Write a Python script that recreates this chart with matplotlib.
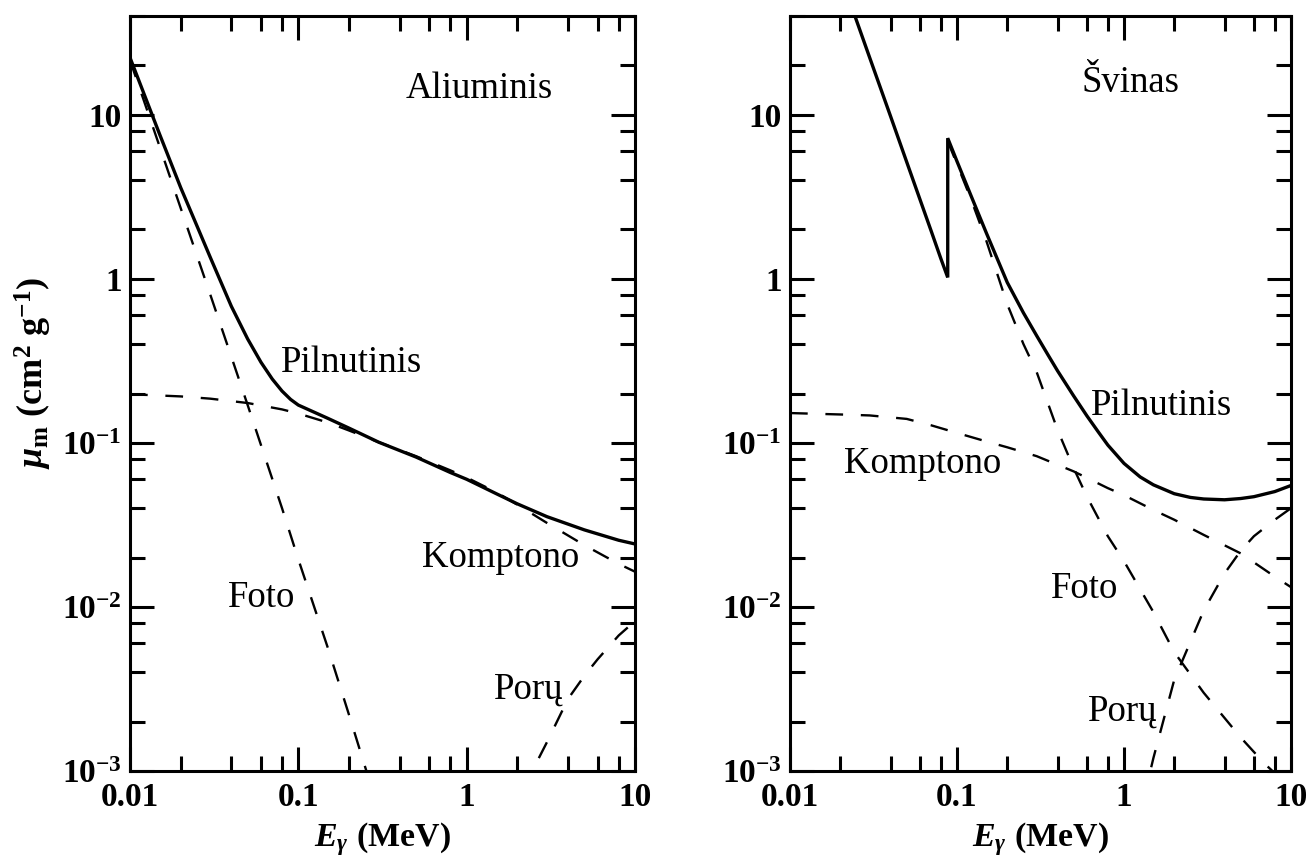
import matplotlib
matplotlib.use("Agg")
import matplotlib.pyplot as plt
from matplotlib.ticker import FixedLocator, FixedFormatter, LogLocator, NullFormatter

plt.rcParams["font.family"] = ["Liberation Serif", "DejaVu Serif"]
plt.rcParams["mathtext.fontset"] = "custom"
plt.rcParams["mathtext.rm"] = "Liberation Serif:bold"
plt.rcParams["mathtext.it"] = "Liberation Serif:italic:bold"
plt.rcParams["mathtext.bf"] = "Liberation Serif:bold"

# ---------------- Aluminium (mass attenuation, cm^2/g) ----------------
al_total_E = [0.01, 0.015, 0.02, 0.025, 0.03, 0.04, 0.05, 0.06, 0.07, 0.08, 0.09,
              0.1, 0.15, 0.2, 0.3, 0.5, 0.8, 1.0, 1.5, 2.0, 3.0, 5.0, 8.0, 10.0]
al_total = [22.3, 7.6, 3.6, 2.1, 1.35, 0.68, 0.43, 0.31, 0.245, 0.207, 0.184,
            0.170, 0.141, 0.123, 0.101, 0.082, 0.066, 0.060, 0.049, 0.0425,
            0.0355, 0.0295, 0.0255, 0.0242]

al_photo_E = [0.01, 0.015, 0.02, 0.03, 0.04, 0.05, 0.06, 0.08, 0.1, 0.15, 0.2, 0.25, 0.3]
al_photo = [21.5, 6.4, 2.7, 0.80, 0.335, 0.170, 0.097, 0.040, 0.0195, 0.0056,
            0.0022, 0.00105, 0.00058]

al_compton_E = [0.01, 0.02, 0.03, 0.05, 0.08, 0.1, 0.15, 0.2, 0.3, 0.5, 0.8, 1.0,
                1.5, 2.0, 3.0, 5.0, 8.0, 10.0]
al_compton = [0.198, 0.192, 0.186, 0.175, 0.160, 0.151, 0.133, 0.119, 0.101, 0.083,
              0.068, 0.0615, 0.050, 0.042, 0.0325, 0.0238, 0.0183, 0.0164]

al_pair_E = [2.3, 2.5, 3.0, 4.0, 5.0, 6.0, 8.0, 10.0]
al_pair = [0.00075, 0.00104, 0.00150, 0.00275, 0.0038, 0.0048, 0.0067, 0.0082]

# ---------------- Lead (mass attenuation, cm^2/g) ----------------
pb_total_E = [0.0242, 0.03, 0.04, 0.05, 0.06, 0.07, 0.08, 0.088, 0.088, 0.1, 0.12,
              0.15, 0.2, 0.25, 0.3, 0.35, 0.4, 0.5, 0.6, 0.7, 0.8, 1.0, 1.25,
              1.5, 2.0, 2.5, 3.0, 4.0, 5.0, 6.0, 8.0, 10.0]
pb_total = [41.3, 22.3, 9.8, 5.15, 3.05, 1.96, 1.33, 1.02, 7.2, 5.2, 3.3,
            1.9, 0.95, 0.62, 0.45, 0.345, 0.275, 0.193, 0.146, 0.117, 0.097,
            0.075, 0.062, 0.0555, 0.049, 0.0465, 0.0455, 0.0450, 0.0458,
            0.0470, 0.0505, 0.055]

pb_photo_E = [0.088, 0.1, 0.12, 0.15, 0.2, 0.25, 0.3, 0.4, 0.5, 0.6, 0.8, 1.0,
              1.5, 2.0, 3.0, 5.0, 7.0, 8.0]
pb_photo = [6.9, 5.0, 3.15, 1.7, 0.70, 0.40, 0.27, 0.12, 0.070, 0.047, 0.027,
            0.019, 0.0093, 0.0053, 0.0030, 0.00160, 0.00110, 0.00097]

pb_compton_E = [0.01, 0.02, 0.03, 0.05, 0.07, 0.1, 0.15, 0.2, 0.3, 0.5, 0.8, 1.0,
                1.5, 2.0, 3.0, 5.0, 8.0, 10.0]
pb_compton = [0.152, 0.149, 0.147, 0.140, 0.128, 0.115, 0.102, 0.094, 0.083,
              0.067, 0.053, 0.048, 0.039, 0.034, 0.0275, 0.0212, 0.0153, 0.0132]

pb_pair_E = [1.3, 1.5, 2.0, 3.0, 4.0, 5.0, 6.0, 8.0, 10.0]
pb_pair = [0.00065, 0.0012, 0.0036, 0.0095, 0.0160, 0.0220, 0.0270, 0.0340, 0.0400]

# axis ticks
x_major = [0.01, 0.1, 1, 10]
x_major_labels = ["0.01", "0.1", "1", "10"]
y_major = [1e-3, 1e-2, 1e-1, 1, 10]
y_major_labels = [r"$\mathregular{10^{-3}}$", r"$\mathregular{10^{-2}}$",
                  r"$\mathregular{10^{-1}}$", "1", "10"]

# curve labels: (text, E, mu)
al_labels = [("Aliuminis", 1.19, 14.4), ("Pilnutinis", 0.207, 0.307),
             ("Komptono", 1.59, 0.0199), ("Foto", 0.0603, 0.01135),
             ("Porų", 2.34, 0.00316)]
pb_labels = [("Švinas", 1.10, 15.7), ("Pilnutinis", 1.67, 0.168),
             ("Komptono", 0.0625, 0.0745), ("Foto", 0.583, 0.0129),
             ("Porų", 0.986, 0.00232)]

W, H = 1309, 859
fig = plt.figure(figsize=(W / 100, H / 100), dpi=100)
ax_al = fig.add_axes([130 / W, 1 - 771 / H, 505 / W, 755 / H])
ax_pb = fig.add_axes([790 / W, 1 - 771 / H, 501 / W, 755 / H])

solid_kw = dict(color="black", lw=2.4, solid_joinstyle="miter")
dash_kw = dict(color="black", lw=1.7, linestyle=(0, (7.5, 7.5)))
label_size = 26.5
tick_size = 24


def style_axes(ax):
    ax.set_xscale("log")
    ax.set_yscale("log")
    ax.set_xlim(0.01, 10)
    ax.set_ylim(1e-3, 40)
    ax.xaxis.set_major_locator(FixedLocator(x_major))
    ax.xaxis.set_major_formatter(FixedFormatter(x_major_labels))
    ax.yaxis.set_major_locator(FixedLocator(y_major))
    ax.yaxis.set_major_formatter(FixedFormatter(y_major_labels))
    ax.xaxis.set_minor_locator(LogLocator(base=10, subs=[2, 4, 6, 8]))
    ax.yaxis.set_minor_locator(LogLocator(base=10, subs=[2, 4, 6, 8]))
    ax.xaxis.set_minor_formatter(NullFormatter())
    ax.yaxis.set_minor_formatter(NullFormatter())
    ax.tick_params(which="both", direction="in", top=True, right=True,
                   width=2.2, labelsize=tick_size)
    ax.tick_params(which="major", length=17)
    ax.tick_params(which="minor", length=11)
    ax.tick_params(axis="x", which="major", pad=8)
    ax.tick_params(axis="y", which="major", pad=6)
    for lab in ax.get_xticklabels() + ax.get_yticklabels():
        lab.set_fontweight("bold")
    for sp in ax.spines.values():
        sp.set_linewidth(2.2)
    ax.set_xlabel(r"$E_\gamma$ (MeV)", fontsize=24.5, fontweight="bold",
                  labelpad=5)


# Aluminium panel
ax_al.plot(al_total_E, al_total, **solid_kw)
ax_al.plot(al_photo_E, al_photo, **dash_kw)
ax_al.plot(al_compton_E, al_compton, **dash_kw)
ax_al.plot(al_pair_E, al_pair, **dash_kw)
style_axes(ax_al)
ax_al.set_ylabel(r"$\mu_\mathrm{m}$ (cm$^\mathrm{2}$ g$^\mathrm{-1}$)",
                 fontsize=26, fontweight="bold")
ax_al.yaxis.set_label_coords(-0.15, 0.527)
for txt, e, m in al_labels:
    ax_al.text(e, m, txt, fontsize=label_size, ha="center", va="center")

# Lead panel
ax_pb.plot(pb_total_E, pb_total, **solid_kw)
ax_pb.plot(pb_photo_E, pb_photo, **dash_kw)
ax_pb.plot(pb_compton_E, pb_compton, **dash_kw)
ax_pb.plot(pb_pair_E, pb_pair, **dash_kw)
style_axes(ax_pb)
for txt, e, m in pb_labels:
    ax_pb.text(e, m, txt, fontsize=label_size, ha="center", va="center")

fig.savefig("out.png", dpi=100, facecolor="white")
